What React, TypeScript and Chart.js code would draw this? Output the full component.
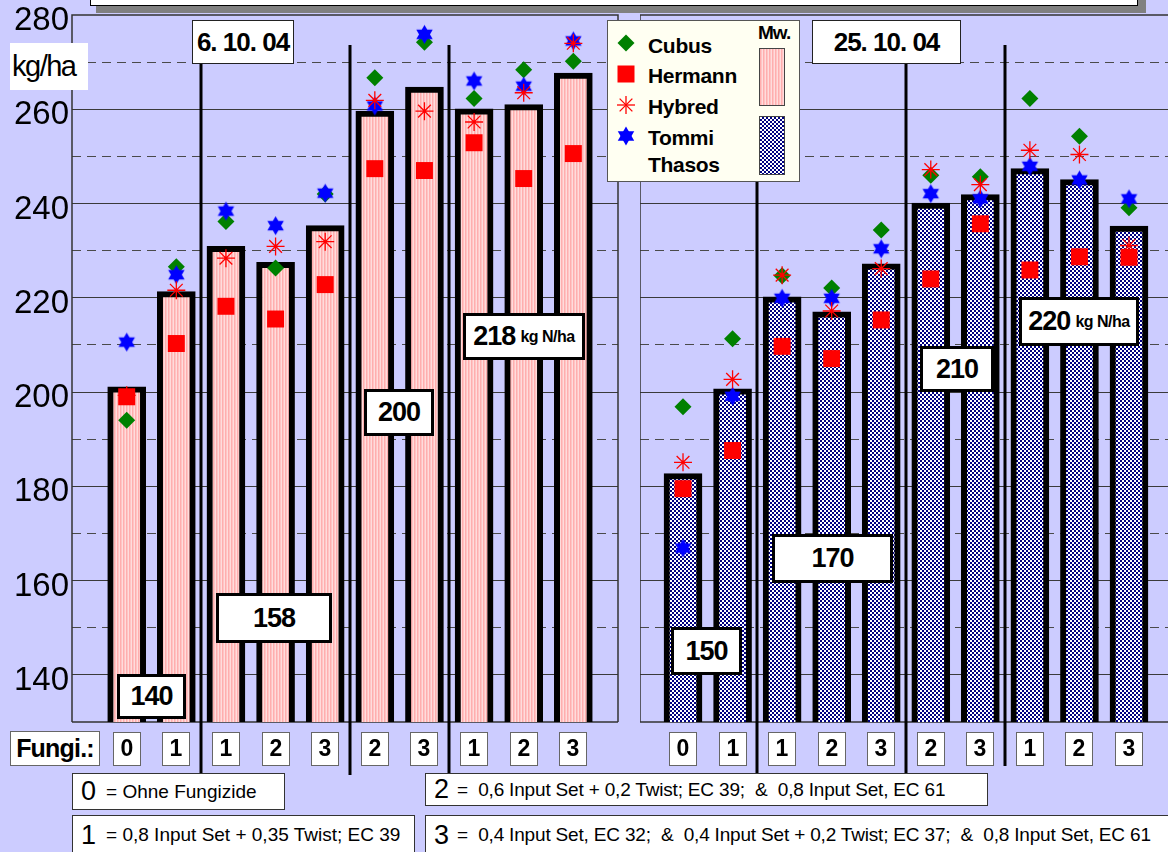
import React, { useEffect, useRef } from "react";
import { Chart, registerables } from "chart.js";

Chart.register(...registerables);

// ---------- data ----------
const fungiLabels = ["0", "1", "1", "2", "3", "2", "3", "1", "2", "3"];
const yTickLabels = [140, 160, 180, 200, 220, 240, 260, 280];
const seriesNames = ["Cubus", "Hermann", "Hybred", "Tommi", "Thasos"];
const dateLabels = ["6. 10. 04", "25. 10. 04"];
const nRates = ["140", "158", "200", "218", "150", "170", "210", "220"];

// Sowing date 6.10.04 – mean (Mw.) and varieties
const meanA = [201.1, 221.3, 230.9, 227.5, 235.3, 259.6, 264.7, 260.1, 261.0, 267.7];
const cubusA = [194.0, 226.6, 236.2, 226.3, 242.0, 266.7, 274.2, 262.3, 268.4, 270.2];
const hermannA = [199.0, 210.3, 218.2, 215.5, 222.8, 247.4, 247.0, 252.9, 245.3, 250.6];
const hybredA = [199.3, 221.6, 228.4, 230.9, 231.9, 261.9, 259.6, 257.3, 263.5, 274.0];
const tommiA = [210.6, 224.9, 238.4, 235.3, 242.2, 260.7, 275.9, 266.0, 264.9, 274.5];

// Sowing date 25.10.04
const meanB = [182.7, 200.7, 220.2, 217.0, 227.2, 240.1, 241.9, 247.4, 245.1, 235.2];
const cubusB = [196.9, 211.3, 224.7, 222.1, 234.4, 246.0, 245.7, 262.3, 254.3, 239.1];
const hermannB = [179.5, 187.6, 209.7, 207.1, 215.3, 224.0, 235.7, 225.9, 228.7, 228.6];
const hybredB = [185.1, 202.7, 224.8, 217.2, 226.2, 247.2, 244.0, 251.3, 250.4, 231.1];
const tommiB = [166.9, 199.1, 219.9, 219.9, 230.4, 242.1, 241.0, 247.9, 245.0, 241.0];

const legendTexts = [
  { num: "0", text: "= Ohne Fungizide" },
  { num: "1", text: "= 0,8 Input Set + 0,35 Twist; EC 39" },
  { num: "2", text: "=  0,6 Input Set + 0,2 Twist; EC 39;  &  0,8 Input Set, EC 61" },
  { num: "3", text: "=  0,4 Input Set, EC 32;  &  0,4 Input Set + 0,2 Twist; EC 37;  &  0,8 Input Set, EC 61" },
];

// ---------- styling / layout ----------
const FONT = '"Liberation Sans", Arial, Helvetica, sans-serif';
const BG = "#CCCCFF";

function makePattern(ctx: CanvasRenderingContext2D, kind: string) {
  const c = document.createElement("canvas");
  const g = c.getContext("2d")!;
  if (kind === "pink") {
    c.width = 3;
    c.height = 2;
    g.fillStyle = "#FFC4C4";
    g.fillRect(0, 0, 3, 2);
    g.fillStyle = "#FFAEAE";
    g.fillRect(0, 0, 1, 2);
    g.fillStyle = "#FFDCDC";
    g.fillRect(2, 0, 1, 2);
  } else {
    c.width = 4;
    c.height = 4;
    g.fillStyle = "#FFFFFF";
    g.fillRect(0, 0, 4, 4);
    g.fillStyle = "#000080";
    g.fillRect(0, 0, 2, 2);
    g.fillRect(2, 2, 2, 2);
  }
  return ctx.createPattern(c, "repeat")!;
}

function makeHexagram(r: number, color: string) {
  const size = Math.ceil(2 * r + 2);
  const c = document.createElement("canvas");
  c.width = size;
  c.height = size;
  const g = c.getContext("2d")!;
  const cx = size / 2;
  const cy = size / 2;
  g.fillStyle = color;
  for (const rot of [0, Math.PI]) {
    g.beginPath();
    for (let k = 0; k < 3; k++) {
      const a = rot - Math.PI / 2 + (k * 2 * Math.PI) / 3;
      const px = cx + r * Math.cos(a);
      const py = cy + r * Math.sin(a);
      if (k === 0) g.moveTo(px, py);
      else g.lineTo(px, py);
    }
    g.closePath();
    g.fill();
  }
  return c;
}

type Sep = { at: number; top: number; bottom: number };

function makeDeco(sides: { right: boolean }, seps: Sep[]) {
  return {
    id: "deco",
    beforeDatasetsDraw(chart: any) {
      const { ctx, chartArea: a } = chart;
      ctx.save();
      ctx.strokeStyle = "#333";
      ctx.lineWidth = 1.5;
      ctx.beginPath();
      ctx.moveTo(a.left, a.bottom);
      ctx.lineTo(a.left, a.top);
      ctx.lineTo(a.right, a.top);
      if (sides.right) ctx.lineTo(a.right, a.bottom);
      ctx.moveTo(a.left, a.bottom);
      ctx.lineTo(a.right, a.bottom);
      ctx.stroke();
      ctx.restore();
    },
    afterDraw(chart: any) {
      const { ctx } = chart;
      const xs = chart.scales.x;
      ctx.save();
      ctx.fillStyle = "#000";
      for (const s of seps) {
        const px = Math.round(xs.getPixelForValue(s.at));
        ctx.fillRect(px - 1.5, s.top, 3, s.bottom - s.top);
      }
      fungiLabels.forEach((lab, i) => {
        const px = Math.round(xs.getPixelForValue(i));
        ctx.fillStyle = "#FFFFFF";
        ctx.fillRect(px - 14, 732, 28, 34);
        ctx.strokeStyle = "#666";
        ctx.lineWidth = 1;
        ctx.strokeRect(px - 13.5, 732.5, 27, 33);
        ctx.fillStyle = "#000";
        ctx.font = `bold 23px ${FONT}`;
        ctx.textAlign = "center";
        ctx.textBaseline = "middle";
        ctx.fillText(lab, px, 750);
      });
      ctx.restore();
    },
  };
}

type Params = {
  mean: number[];
  cubus: number[];
  hermann: number[];
  hybred: number[];
  tommi: number[];
  pattern: string;
  xmin: number;
  xmax: number;
  showY: boolean;
  right: boolean;
  seps: Sep[];
  padRight: number;
};

function buildConfig(ctx: CanvasRenderingContext2D, p: Params): any {
  const toXY = (arr: number[]) => arr.map((y, i) => ({ x: i, y }));
  const hex = makeHexagram(9.5, "#0000FF");
  const fill = makePattern(ctx, p.pattern);
  return {
    type: "bar",
    data: {
      datasets: [
        {
          type: "line",
          label: "Hybred",
          data: toXY(p.hybred),
          showLine: false,
          pointStyle: "star",
          pointRadius: 9,
          pointBorderColor: "#FF0000",
          pointBackgroundColor: "#FF0000",
          pointBorderWidth: 1.3,
          borderColor: "#FF0000",
          order: 1,
        },
        {
          type: "line",
          label: "Tommi Thasos",
          data: toXY(p.tommi),
          showLine: false,
          pointStyle: hex,
          pointRadius: 10,
          order: 2,
        },
        {
          type: "line",
          label: "Hermann",
          data: toXY(p.hermann),
          showLine: false,
          pointStyle: "rect",
          pointRadius: 12,
          pointBackgroundColor: "#FF0000",
          pointBorderColor: "#FF0000",
          pointBorderWidth: 0,
          order: 3,
        },
        {
          type: "line",
          label: "Cubus",
          data: toXY(p.cubus),
          showLine: false,
          pointStyle: "rectRot",
          pointRadius: 8.5,
          pointBackgroundColor: "#008000",
          pointBorderColor: "#008000",
          pointBorderWidth: 0,
          order: 4,
        },
        {
          type: "bar",
          label: "Mw.",
          data: toXY(p.mean),
          backgroundColor: fill,
          borderColor: "#000000",
          borderWidth: 6,
          borderSkipped: "start",
          barThickness: 38,
          order: 10,
        },
      ],
    },
    options: {
      responsive: false,
      maintainAspectRatio: false,
      animation: false,
      events: [],
      layout: { autoPadding: false, padding: { top: 15, bottom: 130, left: 0, right: p.padRight } },
      plugins: { legend: { display: false }, tooltip: { enabled: false } },
      scales: {
        x: { type: "linear", min: p.xmin, max: p.xmax, display: false, offset: false },
        y: {
          type: "linear",
          position: "left",
          min: 130,
          max: 280,
          ticks: {
            stepSize: 10,
            autoSkip: false,
            display: p.showY,
            callback: (v: number) => (yTickLabels.includes(v) ? String(v) : ""),
            font: { family: FONT, size: 33 },
            color: "#000",
            padding: 3,
            labelOffset: 6,
          },
          grid: {
            color: (c: any) =>
              c.tick && c.tick.value % 20 === 0 && c.tick.value < 280 ? "#3a3a3a" : "rgba(0,0,0,0)",
            lineWidth: 1,
            drawTicks: false,
          },
          border: { display: false },
          afterFit: (s: any) => {
            s.width = p.showY ? 72 : 0;
            s.paddingTop = 0;
            s.paddingBottom = 0;
          },
        },
        y2: {
          type: "linear",
          position: "left",
          min: 130,
          max: 280,
          ticks: { stepSize: 10, display: false, autoSkip: false },
          grid: {
            color: (c: any) =>
              c.tick && c.tick.value % 20 !== 0 && c.tick.value > 130 ? "#4a4a4a" : "rgba(0,0,0,0)",
            lineWidth: 1,
            drawTicks: false,
          },
          border: { display: false, dash: [9, 6] },
          afterFit: (s: any) => {
            s.width = 0;
            s.paddingTop = 0;
            s.paddingBottom = 0;
          },
        },
      },
    },
    plugins: [makeDeco({ right: p.right }, p.seps)],
  };
}

// N-rate annotation boxes (index into nRates)
const nBoxes = [
  { i: 0, left: 117, top: 674, w: 69, h: 45, unit: false },
  { i: 1, left: 216, top: 593, w: 116, h: 50, unit: false },
  { i: 2, left: 364, top: 389, w: 70, h: 47, unit: false },
  { i: 3, left: 463, top: 313, w: 122, h: 47, unit: true },
  { i: 4, left: 671, top: 627, w: 71, h: 48, unit: false },
  { i: 5, left: 772, top: 534, w: 121, h: 49, unit: false },
  { i: 6, left: 920, top: 346, w: 74, h: 46, unit: false },
  { i: 7, left: 1019, top: 297, w: 120, h: 49, unit: true },
];

function Marker({ kind }: { kind: string }) {
  if (kind === "Cubus")
    return (
      <svg width="20" height="20">
        <polygon points="10,1.5 18.5,10 10,18.5 1.5,10" fill="#008000" />
      </svg>
    );
  if (kind === "Hermann")
    return (
      <svg width="20" height="20">
        <rect x="1.5" y="1.5" width="17" height="17" fill="#FF0000" />
      </svg>
    );
  if (kind === "Hybred") {
    const lines = [0, 45, 90, 135].map((a) => {
      const r = 9;
      const dx = r * Math.cos((a * Math.PI) / 180);
      const dy = r * Math.sin((a * Math.PI) / 180);
      return <line key={a} x1={10 - dx} y1={10 - dy} x2={10 + dx} y2={10 + dy} stroke="#FF0000" strokeWidth="1.3" />;
    });
    return <svg width="20" height="20">{lines}</svg>;
  }
  const r = 9.5;
  const tri = (rot: number) =>
    [0, 1, 2]
      .map((k) => {
        const a = rot - Math.PI / 2 + (k * 2 * Math.PI) / 3;
        return `${10 + r * Math.cos(a)},${10 + r * Math.sin(a)}`;
      })
      .join(" ");
  return (
    <svg width="20" height="20">
      <polygon points={tri(0)} fill="#0000FF" />
      <polygon points={tri(Math.PI)} fill="#0000FF" />
    </svg>
  );
}

export default function App() {
  const leftRef = useRef<HTMLCanvasElement>(null);
  const rightRef = useRef<HTMLCanvasElement>(null);

  useEffect(() => {
    const lc = leftRef.current!;
    const rc = rightRef.current!;
    const c1 = new Chart(
      lc,
      buildConfig(lc.getContext("2d")!, {
        mean: meanA,
        cubus: cubusA,
        hermann: hermannA,
        hybred: hybredA,
        tommi: tommiA,
        pattern: "pink",
        xmin: -1.102,
        xmax: 9.9,
        showY: true,
        right: true,
        padRight: 2,
        seps: [
          { at: 1.5, top: 60, bottom: 775 },
          { at: 4.5, top: 45, bottom: 775 },
          { at: 6.5, top: 45, bottom: 775 },
        ],
      })
    );
    const c2 = new Chart(
      rc,
      buildConfig(rc.getContext("2d")!, {
        mean: meanB,
        cubus: cubusB,
        hermann: hermannB,
        hybred: hybredB,
        tommi: tommiB,
        pattern: "blue",
        xmin: -0.868,
        xmax: 9.787,
        showY: false,
        right: false,
        padRight: 0,
        seps: [
          { at: 1.5, top: 150, bottom: 775 },
          { at: 4.5, top: 45, bottom: 775 },
          { at: 6.5, top: 45, bottom: 766 },
        ],
      })
    );
    return () => {
      c1.destroy();
      c2.destroy();
    };
  }, []);

  const boxBase: React.CSSProperties = {
    position: "absolute",
    background: "#FFFFFF",
    boxSizing: "border-box",
    display: "flex",
    alignItems: "center",
    justifyContent: "center",
    fontWeight: "bold",
    color: "#000",
    whiteSpace: "nowrap",
  };

  return (
    <div
      style={{
        position: "fixed",
        left: 0,
        top: 0,
        width: 1168,
        height: 852,
        background: BG,
        overflow: "hidden",
        fontFamily: FONT,
      }}
    >
      {/* title box (cut off at top) */}
      <div style={{ position: "absolute", left: 96, top: -30, width: 1050, height: 43, background: "#808080" }} />
      <div
        style={{
          position: "absolute",
          left: 90,
          top: -30,
          width: 1048,
          height: 36,
          background: "#FFFFFF",
          border: "1px solid #000",
          boxSizing: "border-box",
        }}
      />

      <canvas
        ref={leftRef}
        width={620}
        height={852}
        style={{ position: "absolute", left: 0, top: 0, width: 620, height: 852 }}
      />
      <canvas
        ref={rightRef}
        width={528}
        height={852}
        style={{ position: "absolute", left: 640, top: 0, width: 528, height: 852 }}
      />

      {/* unit label */}
      <div
        style={{
          position: "absolute",
          left: 10,
          top: 43,
          width: 78,
          height: 47,
          background: "#FFFFFF",
          fontSize: 29,
          lineHeight: "47px",
          paddingLeft: 2,
          boxSizing: "border-box",
          letterSpacing: -1.5,
        }}
      >
        kg/ha
      </div>

      {/* date boxes */}
      {[
        { left: 192, w: 102 },
        { left: 812, w: 149 },
      ].map((b, k) => (
        <div
          key={k}
          style={{
            ...boxBase,
            left: b.left,
            top: 20,
            width: b.w,
            height: 44,
            border: "1.5px solid #222",
            fontSize: 26,
            letterSpacing: -1,
          }}
        >
          {dateLabels[k]}
        </div>
      ))}

      {/* N-rate boxes */}
      {nBoxes.map((b) => (
        <div
          key={b.i}
          style={{
            ...boxBase,
            left: b.left,
            top: b.top,
            width: b.w,
            height: b.h,
            border: "3.5px solid #000",
            fontSize: 27,
            letterSpacing: -1,
          }}
        >
          {nRates[b.i]}
          {b.unit ? <span style={{ fontSize: 16, marginLeft: 5, letterSpacing: -0.5 }}>kg N/ha</span> : null}
        </div>
      ))}

      {/* legend */}
      <div
        style={{
          position: "absolute",
          left: 607,
          top: 20,
          width: 193,
          height: 162,
          background: "#FFFFF2",
          border: "1px solid #555",
          boxSizing: "border-box",
        }}
      >
        {["Cubus", "Hermann", "Hybred", "Tommi"].map((name, k) => (
          <div key={name} style={{ position: "absolute", left: 8, top: 12 + k * 31 }}>
            <Marker kind={name} />
          </div>
        ))}
        {seriesNames.map((name, k) => (
          <div
            key={name}
            style={{
              position: "absolute",
              left: 40,
              top: [12, 42, 73, 104, 131][k],
              fontSize: 21,
              fontWeight: "bold",
              letterSpacing: -0.3,
              lineHeight: "26px",
            }}
          >
            {name}
          </div>
        ))}
        <div
          style={{
            position: "absolute",
            left: 150,
            top: 1,
            fontSize: 19,
            fontWeight: "bold",
            letterSpacing: -1,
          }}
        >
          Mw.
        </div>
        <div
          style={{
            position: "absolute",
            left: 151,
            top: 27,
            width: 26,
            height: 58,
            border: "1px solid #444",
            boxSizing: "border-box",
            background: "repeating-linear-gradient(90deg, #FFAEAE 0 1px, #FFC4C4 1px 2px, #FFDCDC 2px 3px)",
          }}
        />
        <div
          style={{
            position: "absolute",
            left: 151,
            top: 95,
            width: 26,
            height: 59,
            border: "1px solid #444",
            boxSizing: "border-box",
            background: "repeating-conic-gradient(#000080 0 25%, #FFFFFF 0 50%) 0 0 / 4px 4px",
          }}
        />
      </div>

      {/* Fungi label */}
      <div
        style={{
          ...boxBase,
          left: 10,
          top: 731,
          width: 90,
          height: 35,
          border: "1px solid #666",
          fontSize: 25,
          letterSpacing: -0.8,
        }}
      >
        Fungi.:
      </div>

      {/* treatment legend boxes */}
      {[
        { left: 72, top: 773, w: 213, h: 37, numPad: 8, gap: 10, ls: 0 },
        { left: 72, top: 815, w: 343, h: 40, numPad: 8, gap: 10, ls: 0 },
        { left: 425, top: 773, w: 563, h: 33, numPad: 8, gap: 8, ls: -0.18 },
        { left: 425, top: 815, w: 760, h: 40, numPad: 8, gap: 8, ls: -0.18 },
      ].map((b, k) => (
        <div
          key={k}
          style={{
            position: "absolute",
            left: b.left,
            top: b.top,
            width: b.w,
            height: b.h,
            background: "#FFFFFF",
            border: "1px solid #333",
            boxSizing: "border-box",
            display: "flex",
            alignItems: "center",
            paddingLeft: b.numPad,
            whiteSpace: "pre",
            color: "#000",
          }}
        >
          <span style={{ fontSize: 27, marginRight: b.gap }}>{legendTexts[k].num}</span>
          <span style={{ fontSize: 19, letterSpacing: b.ls }}>{legendTexts[k].text}</span>
        </div>
      ))}
    </div>
  );
}
